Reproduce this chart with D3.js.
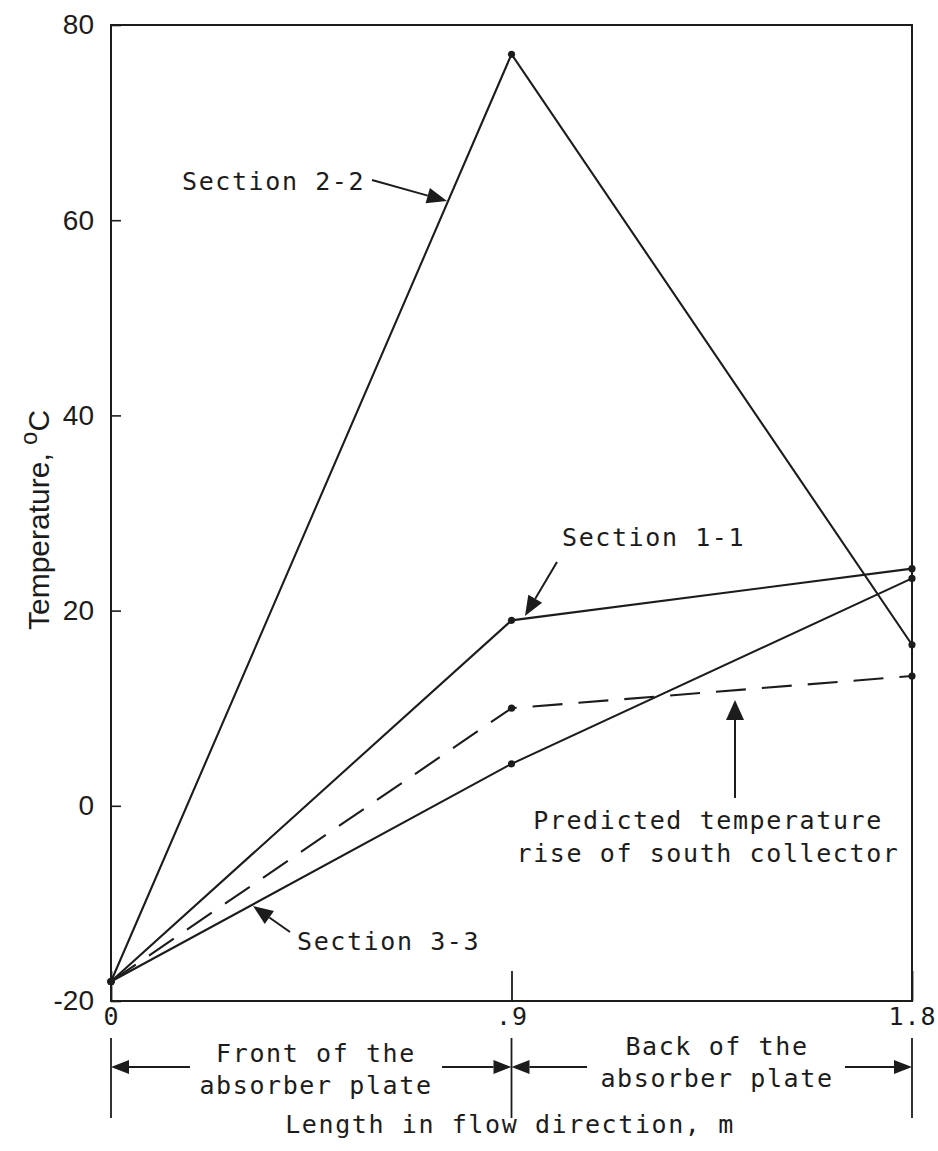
<!DOCTYPE html>
<html>
<head>
<meta charset="utf-8">
<script src="https://cdn.jsdelivr.net/npm/d3@7"></script>
<style>
  html, body { margin: 0; padding: 0; background: #fff; }
  svg { display: block; }
</style>
</head>
<body>
<script>
// Stations along the absorber plate (m)
const lengths = [0, 0.9, 1.8];
// Measured temperature rise at each station (°C)
const section22 = [-18, 77, 16.5];
const section11 = [-18, 19, 24.3];
const section33 = [-18, 4.3, 23.3];
// Predicted temperature rise of south collector (°C)
const predicted = [-18, 10, 13.3];

const yTicks = [-20, 0, 20, 40, 60, 80];
const xTicks = [0, 0.9, 1.8];
const xTickLabels = ["0", ".9", "1.8"];

const W = 938, H = 1151;
const ink = "#1c1c1c";
const mono = "'DejaVu Sans Mono', 'Liberation Mono', monospace";
const sans = "'Liberation Sans', Arial, sans-serif";

const svg = d3.select("body").append("svg")
  .attr("width", W).attr("height", H);

const x = d3.scaleLinear().domain([0, 1.8]).range([111, 912]);
const y = d3.scaleLinear().domain([-20, 80]).range([1001, 25]);

// Frame
svg.append("rect")
  .attr("x", x(0)).attr("y", y(80))
  .attr("width", x(1.8) - x(0)).attr("height", y(-20) - y(80))
  .attr("fill", "none").attr("stroke", ink).attr("stroke-width", 2);

// Y axis with inward ticks
const yAxis = svg.append("g")
  .attr("transform", `translate(${x(0)},0)`)
  .call(d3.axisLeft(y).tickValues(yTicks).tickSize(-10).tickPadding(17).tickFormat(d => String(d)));
yAxis.select(".domain").remove();
yAxis.selectAll("line").attr("stroke", ink).attr("stroke-width", 1.6);
yAxis.selectAll("text")
  .attr("fill", ink).style("font-family", sans).style("font-size", "28px");

// X axis with inward ticks
const xAxis = svg.append("g")
  .attr("transform", `translate(0,${y(-20)})`)
  .call(d3.axisBottom(x).tickValues(xTicks).tickSize(-30).tickPadding(6)
    .tickFormat((d, i) => xTickLabels[i]));
xAxis.select(".domain").remove();
xAxis.selectAll("line").attr("stroke", ink).attr("stroke-width", 1.8);
xAxis.selectAll("text")
  .attr("fill", ink).style("font-family", mono).style("font-size", "25px")
  .style("letter-spacing", "1px");

// Y axis title
const yt = svg.append("text")
  .attr("transform", `translate(49,630) rotate(-90)`)
  .attr("fill", ink).style("font-family", sans).style("font-size", "30px");
yt.append("tspan").text("Temperature, ");
yt.append("tspan").attr("dy", -12).style("font-size", "24px").text("o");
yt.append("tspan").attr("dy", 12).text("C");

// Series
const line = d3.line().x(d => x(d[0])).y(d => y(d[1]));
const series = [
  { vals: section22, dash: null },
  { vals: section11, dash: null },
  { vals: section33, dash: null },
  { vals: predicted, dash: "30,16" }
];
series.forEach(s => {
  const pts = lengths.map((l, i) => [l, s.vals[i]]);
  svg.append("path")
    .attr("d", line(pts))
    .attr("fill", "none").attr("stroke", ink).attr("stroke-width", 2.1)
    .attr("stroke-dasharray", s.dash);
  svg.selectAll(null).data(pts).enter().append("circle")
    .attr("cx", d => x(d[0])).attr("cy", d => y(d[1]))
    .attr("r", 3.6).attr("fill", ink);
});

// Arrow helper: line from (x1,y1) to tip (x2,y2) with filled head
function arrow(x1, y1, x2, y2, len = 20, half = 8, width = 2) {
  const a = Math.atan2(y2 - y1, x2 - x1);
  const bx = x2 - len * Math.cos(a), by = y2 - len * Math.sin(a);
  svg.append("line")
    .attr("x1", x1).attr("y1", y1).attr("x2", bx).attr("y2", by)
    .attr("stroke", ink).attr("stroke-width", width);
  const px = -Math.sin(a) * half, py = Math.cos(a) * half;
  svg.append("path")
    .attr("d", `M${x2},${y2}L${bx + px},${by + py}L${bx - px},${by - py}Z`)
    .attr("fill", ink);
}

function label(txt, tx, ty, anchor = "start") {
  svg.append("text")
    .attr("x", tx).attr("y", ty).attr("text-anchor", anchor)
    .attr("fill", ink).style("font-family", mono).style("font-size", "25px")
    .style("letter-spacing", "1.6px").text(txt);
}

// Section callouts, tips placed on the series lines
label("Section 2-2", 182, 190);
arrow(372, 180, 447, 201);

label("Section 1-1", 562, 546);
arrow(557, 562, 525, 616);

label("Section 3-3", 297, 950);
arrow(290, 932, 253, 906);

label("Predicted temperature", 708, 829, "middle");
label("rise of south collector", 708, 862, "middle");
arrow(735, 798, 735, 700, 20, 9);

// Plate extent dimension lines
const bandTop = 1038, bandBot = 1118, bandY = 1067;
xTicks.forEach(v => {
  svg.append("line")
    .attr("x1", x(v)).attr("x2", x(v)).attr("y1", bandTop).attr("y2", bandBot)
    .attr("stroke", ink).attr("stroke-width", 1.8);
});
arrow(190, bandY, x(0), bandY, 18, 7);
arrow(442, bandY, x(0.9), bandY, 18, 7);
arrow(587, bandY, x(0.9), bandY, 18, 7);
arrow(845, bandY, x(1.8), bandY, 18, 7);

label("Front of the", 316, 1062, "middle");
label("absorber plate", 316, 1094, "middle");
label("Back of the", 717, 1055, "middle");
label("absorber plate", 717, 1087, "middle");

label("Length in flow direction, m", 510, 1133, "middle");
</script>
</body>
</html>
